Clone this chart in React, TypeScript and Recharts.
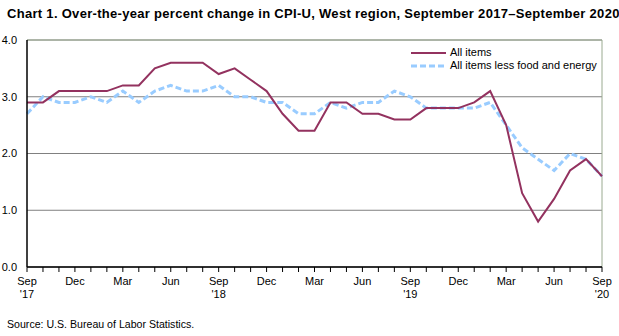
import React from 'react'
import {
  LineChart,
  Line,
  XAxis,
  YAxis,
  CartesianGrid,
  ReferenceLine,
} from 'recharts'

// Sep 2017 .. Sep 2020, monthly
const months = [
  'Sep', 'Oct', 'Nov', 'Dec', 'Jan', 'Feb', 'Mar', 'Apr', 'May', 'Jun', 'Jul', 'Aug',
  'Sep', 'Oct', 'Nov', 'Dec', 'Jan', 'Feb', 'Mar', 'Apr', 'May', 'Jun', 'Jul', 'Aug',
  'Sep', 'Oct', 'Nov', 'Dec', 'Jan', 'Feb', 'Mar', 'Apr', 'May', 'Jun', 'Jul', 'Aug',
  'Sep',
]
const yearLabels: Record<number, string> = { 0: "'17", 12: "'18", 24: "'19", 36: "'20" }

const allItems = [
  2.9, 2.9, 3.1, 3.1, 3.1, 3.1, 3.2, 3.2, 3.5, 3.6, 3.6, 3.6,
  3.4, 3.5, 3.3, 3.1, 2.7, 2.4, 2.4, 2.9, 2.9, 2.7, 2.7, 2.6,
  2.6, 2.8, 2.8, 2.8, 2.9, 3.1, 2.5, 1.3, 0.8, 1.2, 1.7, 1.9,
  1.6,
]
const lessFoodEnergy = [
  2.7, 3.0, 2.9, 2.9, 3.0, 2.9, 3.1, 2.9, 3.1, 3.2, 3.1, 3.1,
  3.2, 3.0, 3.0, 2.9, 2.9, 2.7, 2.7, 2.9, 2.8, 2.9, 2.9, 3.1,
  3.0, 2.8, 2.8, 2.8, 2.8, 2.9, 2.5, 2.1, 1.9, 1.7, 2.0, 1.9,
  1.6,
]
const yTicks = [0, 1, 2, 3, 4]

const data = months.map((m, i) => ({
  i,
  month: m,
  all: allItems[i],
  core: lessFoodEnergy[i],
}))

const FONT = '"Liberation Sans", Arial, sans-serif'
const MAROON = '#93325f'
const BLUE = '#99ccff'
const FRAME = '#9aaa90'

function MonthTick({ x, y, payload }: any) {
  const i = payload.value as number
  if (i % 3 !== 0) return null
  return (
    <g>
      <text x={x} y={y + 11} textAnchor="middle" fontSize={11} fontFamily={FONT} fill="#000">
        {months[i]}
      </text>
      {yearLabels[i] && (
        <text x={x} y={y + 24} textAnchor="middle" fontSize={11} fontFamily={FONT} fill="#000">
          {yearLabels[i]}
        </text>
      )}
    </g>
  )
}

function LegendBox() {
  return (
    <div style={{ fontFamily: FONT, fontSize: 11, lineHeight: '13px' }}>
      <div style={{ display: 'flex', alignItems: 'center' }}>
        <svg width={38} height={13}>
          <line x1={1} y1={7} x2={36} y2={7} stroke={MAROON} strokeWidth={2} />
        </svg>
        <span style={{ marginLeft: 2 }}>All items</span>
      </div>
      <div style={{ display: 'flex', alignItems: 'center' }}>
        <svg width={38} height={13}>
          <line x1={1} y1={7} x2={36} y2={7} stroke={BLUE} strokeWidth={3} strokeDasharray="6 3" />
        </svg>
        <span style={{ marginLeft: 2 }}>All items less food and energy</span>
      </div>
    </div>
  )
}

export default function App() {
  return (
    <div style={{ position: 'absolute', left: 0, top: 0, width: 619, height: 336, background: '#fff' }}>
      <div
        style={{
          position: 'absolute',
          left: 7,
          top: 6,
          fontFamily: FONT,
          fontSize: 13,
          fontWeight: 'bold',
          letterSpacing: 0.3,
          whiteSpace: 'nowrap',
        }}
      >
        Chart 1. Over-the-year percent change in CPI-U, West region, September 2017–September 2020
      </div>
      <LineChart
        width={619}
        height={336}
        data={data}
        margin={{ top: 40, right: 17, left: 0, bottom: 29 }}
      >
        <CartesianGrid horizontal vertical={false} stroke="#808080" strokeWidth={1} />
        <XAxis
          dataKey="i"
          type="number"
          domain={[0, 36]}
          ticks={months.map((_, i) => i)}
          interval={0}
          tick={<MonthTick />}
          tickLine={{ stroke: '#000' }}
          tickSize={5}
          axisLine={{ stroke: '#000', strokeWidth: 1.5 }}
          height={40}
        />
        <YAxis
          type="number"
          domain={[0, 4]}
          ticks={yTicks}
          tickFormatter={(v: number) => v.toFixed(1)}
          tick={{ fontSize: 11, fontFamily: FONT, fill: '#000' }}
          tickLine={false}
          axisLine={{ stroke: '#000', strokeWidth: 1.5 }}
          width={27}
          tickMargin={4}
        />
        <ReferenceLine y={4} stroke={FRAME} strokeWidth={1} />
        <ReferenceLine x={36} stroke={FRAME} strokeWidth={1} />
        <Line
          type="linear"
          dataKey="core"
          name="All items less food and energy"
          stroke={BLUE}
          strokeWidth={3}
          strokeDasharray="6 3"
          dot={false}
          isAnimationActive={false}
        />
        <Line
          type="linear"
          dataKey="all"
          name="All items"
          stroke={MAROON}
          strokeWidth={2}
          dot={false}
          isAnimationActive={false}
        />
      </LineChart>
      <div style={{ position: 'absolute', left: 410, top: 46 }}>
        <LegendBox />
      </div>
      <div style={{ position: 'absolute', left: 7, top: 318, fontFamily: FONT, fontSize: 10.6 }}>
        Source: U.S. Bureau of Labor Statistics.
      </div>
    </div>
  )
}
